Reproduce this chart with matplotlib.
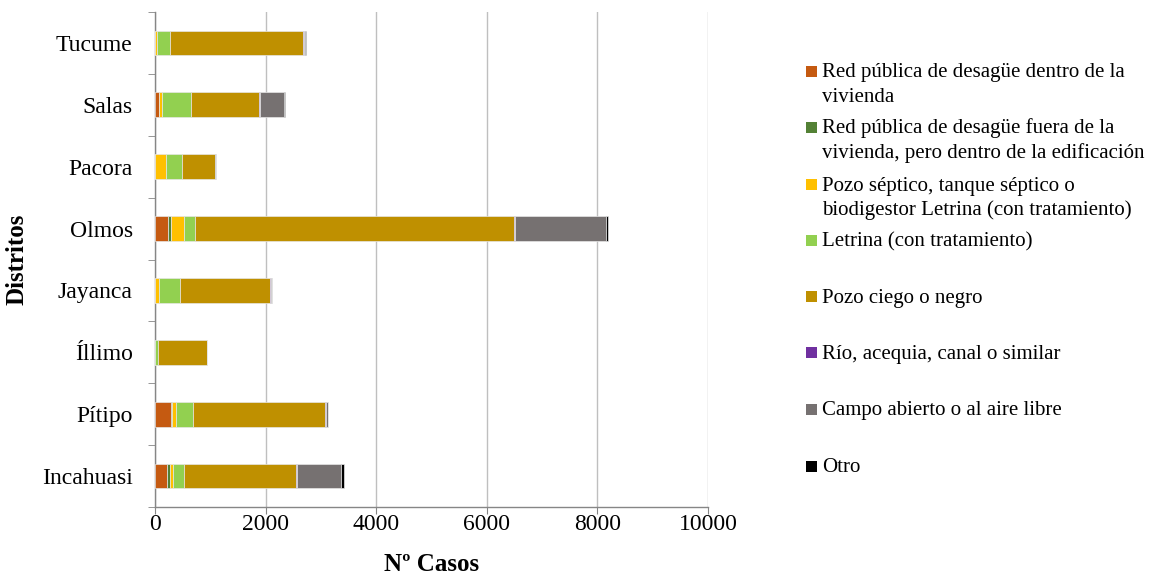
import matplotlib
matplotlib.use("Agg")
import matplotlib.pyplot as plt
from matplotlib.patches import Rectangle
import numpy as np

plt.rcParams['font.family'] = ['Liberation Serif', 'DejaVu Serif']

# Districts, bottom to top
districts = ["Incahuasi", "Pítipo", "Íllimo", "Jayanca", "Olmos", "Pacora", "Salas", "Tucume"]

series_names = [
    "Red pública de desagüe dentro de la\nvivienda",
    "Red pública de desagüe fuera de la\nvivienda, pero dentro de la edificación",
    "Pozo séptico, tanque séptico o\nbiodigestor Letrina (con tratamiento)",
    "Letrina (con tratamiento)",
    "Pozo ciego o negro",
    "Río, acequia, canal o similar",
    "Campo abierto o al aire libre",
    "Otro",
]
series_colors = ["#C55A11", "#538135", "#FFC000", "#92D050",
                 "#BF9000", "#7030A0", "#767171", "#000000"]

# Number of cases per district (same order as districts)
red_dentro   = [216, 288, 0,   0,    228,  0,   65,   0]
red_fuera    = [48,  24,  0,   0,    60,   0,   0,    0]
pozo_septico = [60,  73,  0,   80,   235,  190, 60,   40]
letrina      = [206, 307, 60,  365,  193,  305, 520,  225]
pozo_ciego   = [2025, 2387, 880, 1627, 5780, 585, 1240, 2420]
rio          = [18,  10,  0,   24,   18,   0,   5,    5]
campo        = [783, 38,  0,   24,   1645, 20,  445,  25]
otro         = [60,  0,   0,   0,    37,   10,  15,   10]

series_values = [red_dentro, red_fuera, pozo_septico, letrina,
                 pozo_ciego, rio, campo, otro]

W, H = 1160, 578
fig = plt.figure(figsize=(W / 100, H / 100), dpi=100)
ax = fig.add_axes([155 / W, 1 - 507 / H, (708 - 155) / W, (507 - 12) / H])

y = np.arange(len(districts))
left = np.zeros(len(districts))
for vals, col, name in zip(series_values, series_colors, series_names):
    vals = np.asarray(vals, dtype=float)
    ax.barh(y, vals, left=left, height=0.4, color=col,
            edgecolor="#E6E6E6", linewidth=0.5, label=name, zorder=3)
    left += vals

ax.set_xlim(0, 10000)
ax.set_ylim(-0.5, len(districts) - 0.5)
ax.set_xticks(np.arange(0, 10001, 2000))
ax.set_yticks(y)
ax.set_yticklabels(districts)
ax.set_yticks(np.arange(-0.5, len(districts), 1.0), minor=True)

ax.grid(axis="x", color="#BFBFBF", linewidth=1.0, zorder=0)
ax.set_axisbelow(True)
for s in ("top", "right"):
    ax.spines[s].set_visible(False)
for s in ("left", "bottom"):
    ax.spines[s].set_color("#868686")
    ax.spines[s].set_linewidth(1.0)

ax.tick_params(axis="x", which="major", length=5, color="#868686",
               labelsize=17, pad=0)
ax.tick_params(axis="y", which="major", length=0, labelsize=17, pad=16)
ax.tick_params(axis="y", which="minor", length=5, color="#868686")

ax.set_xlabel("Nº Casos", fontsize=18, fontweight="bold", labelpad=13)
ax.set_ylabel("Distritos", fontsize=18, fontweight="bold")
ax.yaxis.set_label_coords(-126 / (708 - 155), 0.5)

# Legend drawn on the figure, one evenly spaced row per series
row_centers = [71, 127, 184, 240, 296, 352, 409, 466]
for name, col, cy in zip(series_names, series_colors, row_centers):
    fig.patches.append(Rectangle(((806) / W, 1 - (cy + 5.5) / H), 11 / W, 11 / H,
                                 transform=fig.transFigure, facecolor=col,
                                 edgecolor="none"))
    for i, line in enumerate(name.split("\n")):
        fig.text(822 / W, 1 - (cy + 6.5 + 24.5 * i) / H, line, fontsize=15,
                 ha="left", va="baseline", color="#000000")

fig.savefig("out.png", dpi=100)
